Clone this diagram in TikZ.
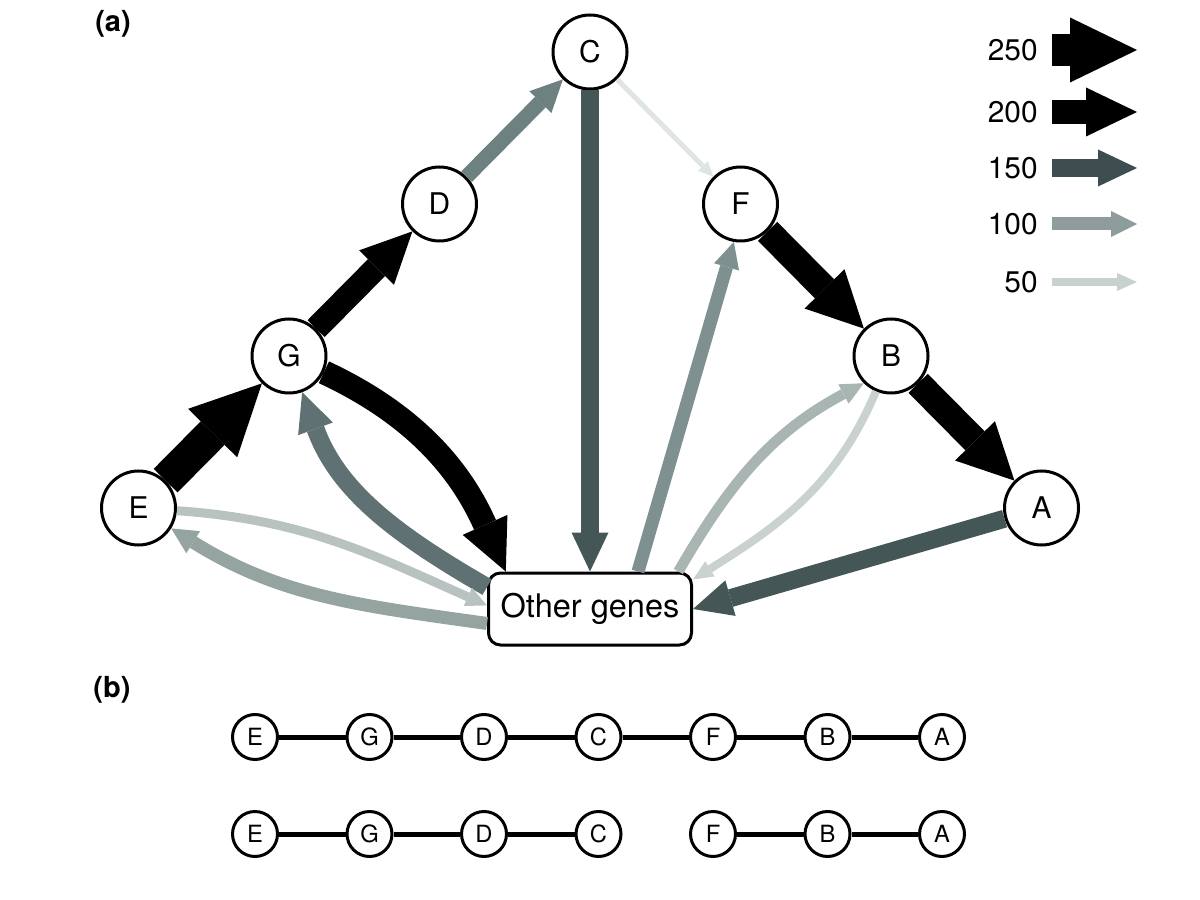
\documentclass[tikz,border=0pt]{standalone}
\usepackage{fontspec}
\setmainfont{TeX Gyre Heros}
\usepackage{tikz}
\usetikzlibrary{arrows.meta, positioning}

\definecolor{keydark}{HTML}{3E4E50}
\definecolor{keymid}{HTML}{8E9C9B}
\definecolor{keylight}{HTML}{C9D1CF}
\definecolor{slate}{HTML}{455657}
\definecolor{slatemid}{HTML}{5F7172}
\definecolor{tealgrey}{HTML}{6E8181}
\definecolor{midgrey}{HTML}{7F9090}
\definecolor{softgrey}{HTML}{95A3A1}
\definecolor{lightgrey}{HTML}{A9B5B3}
\definecolor{palegrey}{HTML}{B8C3C1}
\definecolor{paler}{HTML}{CAD2D0}
\definecolor{palest}{HTML}{DFE5E3}

\begin{document}
\begin{tikzpicture}[node distance=3.04cm and 3.01cm, on grid]

\tikzstyle{gene} = [circle, draw=black, line width=0.06cm, fill=white, minimum size=1.48cm, inner sep=0pt, font=\fontsize{17}{20}\selectfont]
\tikzstyle{pool} = [rectangle, rounded corners=0.24cm, draw=black, line width=0.06cm, fill=white, minimum width=4.06cm, minimum height=1.44cm, font=\fontsize{18.5}{22}\selectfont]
\tikzstyle{orderbox} = [circle, draw=black, line width=0.06cm, fill=white, minimum size=0.9cm, inner sep=0pt, font=\fontsize{13.5}{15}\selectfont]
\tikzstyle{link} = [line width=0.1cm]
\tikzstyle{keylabel} = [anchor=east, inner sep=0pt, font=\fontsize{17}{20}\selectfont]
\tikzstyle{panel} = [font=\fontsize{16.5}{18}\selectfont\bfseries]
\tikzstyle{w270} = [line width=0.67cm, -{Triangle[length=1.4cm, width=1.38cm, line width=0pt]}]
\tikzstyle{w250} = [line width=0.64cm, -{Triangle[length=1.34cm, width=1.3cm, line width=0pt]}]
\tikzstyle{w220} = [line width=0.54cm, -{Triangle[length=1.12cm, width=1.12cm, line width=0pt]}]
\tikzstyle{w200} = [line width=0.48cm, -{Triangle[length=1.02cm, width=0.98cm, line width=0pt]}]
\tikzstyle{w150} = [line width=0.36cm, -{Triangle[length=0.78cm, width=0.74cm, line width=0pt]}]
\tikzstyle{w120} = [line width=0.30cm, -{Triangle[length=0.64cm, width=0.62cm, line width=0pt]}]
\tikzstyle{w100} = [line width=0.26cm, -{Triangle[length=0.52cm, width=0.52cm, line width=0pt]}]
\tikzstyle{w80} = [line width=0.21cm, -{Triangle[length=0.46cm, width=0.44cm, line width=0pt]}]
\tikzstyle{w60} = [line width=0.18cm, -{Triangle[length=0.42cm, width=0.4cm, line width=0pt]}]
\tikzstyle{w50} = [line width=0.16cm, -{Triangle[length=0.4cm, width=0.36cm, line width=0pt]}]
\tikzstyle{w30} = [line width=0.1cm, -{Triangle[length=0.3cm, width=0.28cm, line width=0pt]}]

\useasboundingbox (0,0) rectangle (24,17.98);

% (a) network
\node (C) [gene] at (11.8,16.94) {C};
\node (D) [gene, below left=of C] {D};
\node (F) [gene, below right=of C] {F};
\node (G) [gene, below left=of D] {G};
\node (B) [gene, below right=of F] {B};
\node (E) [gene, below left=of G] {E};
\node (A) [gene, below right=of B] {A};
\node (other) [pool, below=11.14cm of C] {Other genes};

\draw [w270, black] (E) -- (G);
\draw [w200, black] (G) -- (D);
\draw [w120, tealgrey] (D) -- (C);
\draw [w150, slate] (C) -- (other);
\draw [w30, palest] (C) -- (F);
\draw [w220, black] (F) -- (B);
\draw [w220, black] (B) -- (A);
\draw [w150, slate] (A) -- (other.east);
\draw [w100, midgrey] (other.38) -- (F.-100);
\draw [w200, black] (G) to[out=-25, in=114] (other.156);
\draw [w150, slatemid] (other.168) to[out=150, in=-70] (G);
\draw [w60, palegrey] (E) to[out=-4, in=156] (other.178);
\draw [w100, softgrey] (other.188) to[out=172, in=-32] (E);
\draw [w80, lightgrey] (other.23) to[out=60, in=-152] (B.-135);
\draw [w50, paler] (B) to[out=-113, in=32] (other.16);

\node (pa) [panel] at (2.26,17.5) {(a)};
\node (pb) [panel] at (2.24,4.18) {(b)};

% legend
\node (l250) [keylabel] at (20.76,16.98) {250};
\node (l200) [keylabel] at (20.76,15.74) {200};
\node (l150) [keylabel] at (20.76,14.62) {150};
\node (l100) [keylabel] at (20.76,13.5) {100};
\node (l50) [keylabel] at (20.76,12.34) {50};
\coordinate (t250) at (22.74,16.98);
\coordinate (t200) at (22.74,15.74);
\coordinate (t150) at (22.74,14.62);
\coordinate (t100) at (22.74,13.5);
\coordinate (t50) at (22.74,12.34);
\draw [w250, black] ([xshift=0.28cm]l250.east) -- (t250);
\draw [w200, black] ([xshift=0.28cm]l200.east) -- (t200);
\draw [w150, keydark] ([xshift=0.28cm]l150.east) -- (t150);
\draw [w100, keymid] ([xshift=0.28cm]l100.east) -- (t100);
\draw [w50, keylight] ([xshift=0.28cm]l50.east) -- (t50);

% (b) orderings
\node (e1) [orderbox] at (5.1,3.24) {E};
\node (g1) [orderbox, right=2.29cm of e1] {G};
\node (d1) [orderbox, right=2.29cm of g1] {D};
\node (c1) [orderbox, right=2.29cm of d1] {C};
\node (f1) [orderbox, right=2.29cm of c1] {F};
\node (b1) [orderbox, right=2.29cm of f1] {B};
\node (a1) [orderbox, right=2.29cm of b1] {A};
\node (e2) [orderbox, below=1.94cm of e1] {E};
\node (g2) [orderbox, right=2.29cm of e2] {G};
\node (d2) [orderbox, right=2.29cm of g2] {D};
\node (c2) [orderbox, right=2.29cm of d2] {C};
\node (f2) [orderbox, right=2.29cm of c2] {F};
\node (b2) [orderbox, right=2.29cm of f2] {B};
\node (a2) [orderbox, right=2.29cm of b2] {A};

\draw [link] (e1) -- (g1) -- (d1) -- (c1) -- (f1) -- (b1) -- (a1);
\draw [link] (e2) -- (g2) -- (d2) -- (c2);
\draw [link] (f2) -- (b2) -- (a2);
\end{tikzpicture}
\end{document}
